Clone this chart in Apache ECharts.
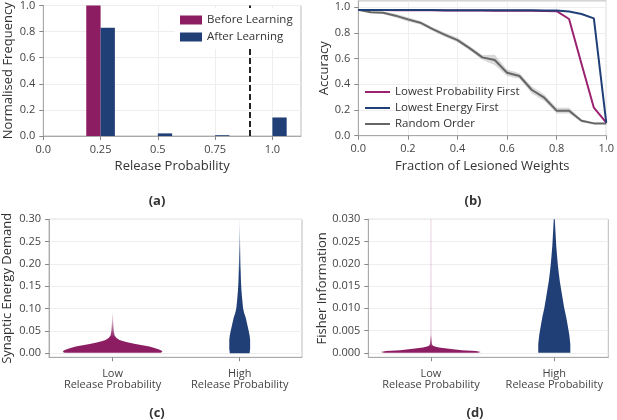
<!DOCTYPE html>
<html>
<head>
<meta charset="utf-8">
<script src="https://cdn.jsdelivr.net/npm/echarts@6/dist/echarts.min.js"></script>
<style>
  html, body { margin: 0; padding: 0; background: #fff; }
  #main { width: 617px; height: 420px; }
</style>
</head>
<body>
<div id="main"></div>
<script>
// (a) histogram of release probabilities
var binCenters = [0.25, 0.5, 0.75, 1.0];
var binWidth = 0.0625;
var beforeFreq = [1.0, 0, 0, 0];
var afterFreq = [0.83, 0.02, 0.006, 0.142];
var thresholdP = 0.9;

// (b) lesion curves
var lesionX = [0, 0.05, 0.1, 0.15, 0.2, 0.25, 0.3, 0.35, 0.4, 0.45, 0.5, 0.55, 0.6, 0.65, 0.7, 0.75, 0.8, 0.85, 0.9, 0.95, 1.0];
var lowProbAcc = [0.98, 0.979, 0.979, 0.978, 0.978, 0.977, 0.977, 0.976, 0.976, 0.975, 0.975, 0.974, 0.974, 0.973, 0.973, 0.972, 0.97, 0.909, 0.56, 0.218, 0.101];
var lowEnergyAcc = [0.98, 0.98, 0.98, 0.979, 0.979, 0.979, 0.979, 0.978, 0.978, 0.978, 0.978, 0.977, 0.977, 0.977, 0.977, 0.976, 0.975, 0.968, 0.948, 0.914, 0.1];
var randomAcc = [0.98, 0.961, 0.958, 0.935, 0.906, 0.88, 0.83, 0.785, 0.745, 0.68, 0.61, 0.59, 0.49, 0.465, 0.356, 0.296, 0.195, 0.195, 0.117, 0.096, 0.096];
var randomErr = [0, 0.008, 0.01, 0.014, 0.016, 0.014, 0.014, 0.016, 0.018, 0.016, 0.018, 0.04, 0.025, 0.022, 0.028, 0.025, 0.022, 0.022, 0.012, 0.006, 0.005];

// (c)/(d) violin profiles: value, half width (in category units)
var violinLabels = ['Low\nRelease Probability', 'High\nRelease Probability'];
var energyLowY = [0.001, 0.003, 0.006, 0.009, 0.012, 0.015, 0.018, 0.021, 0.024, 0.027, 0.030, 0.034, 0.04, 0.05, 0.07, 0.09];
var energyLowW = [0.376, 0.392, 0.384, 0.36, 0.33, 0.29, 0.235, 0.18, 0.125, 0.086, 0.055, 0.031, 0.016, 0.0094, 0.0047, 0.0024];
var energyHighY = [0, 0.01, 0.02, 0.03, 0.04, 0.05, 0.06, 0.07, 0.08, 0.09, 0.10, 0.12, 0.14, 0.16, 0.18, 0.20, 0.22, 0.25, 0.28, 0.30];
var energyHighW = [0.078, 0.082, 0.082, 0.082, 0.078, 0.071, 0.063, 0.055, 0.047, 0.035, 0.027, 0.02, 0.014, 0.01, 0.008, 0.006, 0.005, 0.003, 0.0016, 0.0008];
var fisherLowY = [0, 0.0002, 0.0004, 0.0006, 0.0009, 0.0012, 0.0014, 0.0016, 0.002, 0.005, 0.03];
var fisherLowW = [0.38, 0.405, 0.365, 0.25, 0.146, 0.065, 0.032, 0.016, 0.008, 0.005, 0.004];
var fisherHighY = [0, 0.002, 0.004, 0.006, 0.008, 0.010, 0.012, 0.014, 0.016, 0.018, 0.020, 0.022, 0.024, 0.026, 0.028, 0.030];
var fisherHighW = [0.13, 0.13, 0.122, 0.11, 0.097, 0.081, 0.069, 0.057, 0.045, 0.036, 0.028, 0.022, 0.016, 0.012, 0.008, 0.004];

var PURPLE = '#8C1D63';
var NAVY = '#213F77';
var FONT = 'Open Sans';

var chart = echarts.init(document.getElementById('main'));

function barRender(params, api) {
    var p0 = api.coord([api.value(0), api.value(2)]);
    var p1 = api.coord([api.value(1), 0]);
    return {
        type: 'rect',
        shape: { x: p0[0], y: p0[1], width: p1[0] - p0[0], height: p1[1] - p0[1] },
        style: { fill: api.visual('color') }
    };
}

function bandRender(params, api) {
    var pts = [];
    for (var i = 0; i < lesionX.length; i++) pts.push(api.coord([lesionX[i], randomAcc[i] + randomErr[i]]));
    for (var j = lesionX.length - 1; j >= 0; j--) pts.push(api.coord([lesionX[j], randomAcc[j] - randomErr[j]]));
    return { type: 'polygon', shape: { points: pts }, style: { fill: 'rgba(140,140,140,0.33)' } };
}

function violin(ys, ws, center, color, fadeColor, fadeFrom, fadeTo) {
    return function (params, api) {
        var pts = [];
        for (var i = 0; i < ys.length; i++) pts.push(api.coord([center - ws[i], ys[i]]));
        for (var j = ys.length - 1; j >= 0; j--) pts.push(api.coord([center + ws[j], ys[j]]));
        var fill = color;
        if (fadeFrom != null) {
            var a = api.coord([center, fadeFrom]);
            var b = api.coord([center, fadeTo]);
            fill = new echarts.graphic.LinearGradient(0, b[1], 0, a[1], [
                { offset: 0, color: fadeColor },
                { offset: 1, color: color }
            ], true);
        }
        return { type: 'polygon', shape: { points: pts }, style: { fill: fill } };
    };
}

function valAxis(extra) {
    var o = {
        type: 'value',
        axisLine: { show: true, onZero: false, lineStyle: { color: '#aaa' } },
        axisTick: { show: true, length: 4, lineStyle: { color: '#888' } },
        axisLabel: { color: '#444', fontFamily: FONT, fontSize: 11 },
        splitLine: { show: true, lineStyle: { color: '#eee' } },
        nameTextStyle: { color: '#333', fontFamily: FONT, fontSize: 13 },
        nameLocation: 'middle'
    };
    for (var k in extra) {
        if (typeof extra[k] === 'object' && o[k] && !Array.isArray(extra[k])) {
            o[k] = Object.assign({}, o[k], extra[k]);
        } else {
            o[k] = extra[k];
        }
    }
    return o;
}

var gridBorder = { show: true, borderColor: '#bbb', borderWidth: 1 };
var panelTitle = { fontSize: 13, fontWeight: 'bold', color: '#333', fontFamily: FONT };

var option = {
    animation: false,
    backgroundColor: '#fff',
    textStyle: { fontFamily: FONT },
    title: [
        { text: '(a)', left: 152, top: 196, textAlign: 'center', textVerticalAlign: 'middle', textStyle: panelTitle },
        { text: '(b)', left: 468, top: 196, textAlign: 'center', textVerticalAlign: 'middle', textStyle: panelTitle },
        { text: '(c)', left: 152, top: 408, textAlign: 'center', textVerticalAlign: 'middle', textStyle: panelTitle },
        { text: '(d)', left: 470, top: 408, textAlign: 'center', textVerticalAlign: 'middle', textStyle: panelTitle }
    ],
    legend: [
        {
            data: ['Before Learning', 'After Learning'],
            left: 175, top: 8, orient: 'vertical',
            icon: 'rect', itemWidth: 22, itemHeight: 9, itemGap: 5,
            padding: [6, 6, 6, 5],
            backgroundColor: '#fff', z: 10,
            textStyle: { fontSize: 11.5, color: '#333', fontFamily: FONT }
        },
        {
            data: ['Lowest Probability First', 'Lowest Energy First', 'Random Order'],
            left: 360, top: 81, orient: 'vertical',
            icon: 'rect', itemWidth: 25, itemHeight: 2, itemGap: 4,
            textStyle: { fontSize: 11.5, color: '#333', fontFamily: FONT }
        }
    ],
    grid: [
        Object.assign({ left: 43.3, top: 4.7, width: 257.7, height: 131.3 }, gridBorder),
        Object.assign({ left: 358.3, top: 0.9, width: 251.2, height: 134.8 }, gridBorder),
        Object.assign({ left: 48, top: 219.3, width: 254, height: 138 }, gridBorder),
        Object.assign({ left: 368.3, top: 219.3, width: 240, height: 138 }, gridBorder)
    ],
    xAxis: [
        valAxis({
            gridIndex: 0, min: 0, max: 1.125, name: 'Release Probability', nameGap: 24,
            axisLabel: { customValues: [0, 0.25, 0.5, 0.75, 1.0], formatter: function (v) { return v === 0 ? '0.0' : v === 1 ? '1.0' : String(v); } },
            axisTick: { customValues: [0, 0.25, 0.5, 0.75, 1.0] }
        }),
        valAxis({
            gridIndex: 1, min: 0, max: 1, interval: 0.2, name: 'Fraction of Lesioned Weights', nameGap: 24,
            axisLabel: { formatter: function (v) { return v.toFixed(1); } }
        }),
        valAxis({
            gridIndex: 2, min: -0.5, max: 1.49,
            axisLabel: { customValues: [0, 1], lineHeight: 11, margin: 11, formatter: function (v) { return violinLabels[Math.round(v)]; } },
            axisTick: { customValues: [0, 1] },
            splitLine: { show: false }
        }),
        valAxis({
            gridIndex: 3, min: -0.508, max: 1.438,
            axisLabel: { customValues: [0, 1], lineHeight: 11, margin: 11, formatter: function (v) { return violinLabels[Math.round(v)]; } },
            axisTick: { customValues: [0, 1] },
            splitLine: { show: false }
        })
    ],
    yAxis: [
        valAxis({
            gridIndex: 0, min: 0, max: 1, interval: 0.2, name: 'Normalised Frequency', nameGap: 29,
            axisLabel: { formatter: function (v) { return v.toFixed(1); } }
        }),
        valAxis({
            gridIndex: 1, min: 0, max: 1.05, name: 'Accuracy', nameGap: 28,
            axisLabel: { customValues: [0, 0.2, 0.4, 0.6, 0.8, 1.0], formatter: function (v) { return v.toFixed(1); } },
            axisTick: { customValues: [0, 0.2, 0.4, 0.6, 0.8, 1.0] }
        }),
        valAxis({
            gridIndex: 2, min: -0.009, max: 0.30, name: 'Synaptic Energy Demand', nameGap: 35,
            axisLabel: { customValues: [0, 0.05, 0.1, 0.15, 0.2, 0.25, 0.3], formatter: function (v) { return v.toFixed(2); } },
            axisTick: { customValues: [0, 0.05, 0.1, 0.15, 0.2, 0.25, 0.3] }
        }),
        valAxis({
            gridIndex: 3, min: -0.001, max: 0.030, name: 'Fisher Information', nameGap: 37,
            axisLabel: { customValues: [0, 0.005, 0.01, 0.015, 0.02, 0.025, 0.03], formatter: function (v) { return v.toFixed(3); } },
            axisTick: { customValues: [0, 0.005, 0.01, 0.015, 0.02, 0.025, 0.03] }
        })
    ],
    series: [
        {
            name: 'Before Learning', type: 'custom', xAxisIndex: 0, yAxisIndex: 0,
            itemStyle: { color: PURPLE },
            renderItem: barRender,
            encode: { x: [0, 1], y: 2 },
            data: binCenters.map(function (c, i) { return [c - binWidth, c, beforeFreq[i]]; })
        },
        {
            name: 'After Learning', type: 'custom', xAxisIndex: 0, yAxisIndex: 0,
            itemStyle: { color: NAVY },
            renderItem: barRender,
            encode: { x: [0, 1], y: 2 },
            data: binCenters.map(function (c, i) { return [c, c + binWidth, afterFreq[i]]; }),
            markLine: {
                silent: true, symbol: 'none', label: { show: false },
                lineStyle: { color: '#222', type: [6, 3], width: 2 },
                data: [{ xAxis: thresholdP }]
            }
        },
        {
            type: 'custom', xAxisIndex: 1, yAxisIndex: 1, encode: { x: 0, y: 1 },
            renderItem: bandRender,
            data: [[0, 0]]
        },
        {
            name: 'Random Order', type: 'line', xAxisIndex: 1, yAxisIndex: 1,
            symbol: 'none', itemStyle: { color: '#666' }, lineStyle: { color: '#666', width: 2 },
            data: lesionX.map(function (x, i) { return [x, randomAcc[i]]; })
        },
        {
            name: 'Lowest Probability First', type: 'line', xAxisIndex: 1, yAxisIndex: 1,
            symbol: 'none', itemStyle: { color: '#9A2270' }, lineStyle: { color: '#9A2270', width: 2 },
            data: lesionX.map(function (x, i) { return [x, lowProbAcc[i]]; })
        },
        {
            name: 'Lowest Energy First', type: 'line', xAxisIndex: 1, yAxisIndex: 1,
            symbol: 'none', itemStyle: { color: NAVY }, lineStyle: { color: NAVY, width: 2 },
            data: lesionX.map(function (x, i) { return [x, lowEnergyAcc[i]]; })
        },
        {
            type: 'custom', xAxisIndex: 2, yAxisIndex: 2, encode: { x: 0, y: 1 },
            renderItem: violin(energyLowY, energyLowW, 0, PURPLE, 'rgba(140,29,99,0.05)', 0.035, 0.09),
            data: [[0, 0]]
        },
        {
            type: 'custom', xAxisIndex: 2, yAxisIndex: 2, encode: { x: 0, y: 1 },
            renderItem: violin(energyHighY, energyHighW, 1, NAVY, 'rgba(33,63,119,0.1)', 0.18, 0.30),
            data: [[1, 0]]
        },
        {
            type: 'custom', xAxisIndex: 3, yAxisIndex: 3, encode: { x: 0, y: 1 },
            renderItem: violin(fisherLowY, fisherLowW, 0, PURPLE, 'rgba(140,29,99,0.2)', 0.0014, 0.004),
            data: [[0, 0]]
        },
        {
            type: 'custom', xAxisIndex: 3, yAxisIndex: 3, encode: { x: 0, y: 1 },
            renderItem: violin(fisherHighY, fisherHighW, 1, NAVY),
            data: [[1, 0]]
        }
    ]
};

chart.setOption(option);
</script>
</body>
</html>
